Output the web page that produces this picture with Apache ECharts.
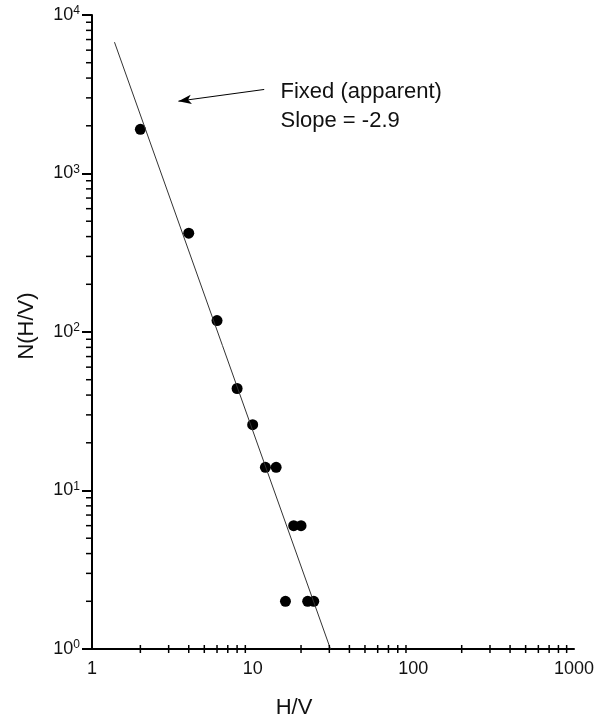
<!DOCTYPE html>
<html>
<head>
<meta charset="utf-8">
<script src="https://cdn.jsdelivr.net/npm/echarts@6/dist/echarts.min.js"></script>
<style>
  html, body { margin: 0; padding: 0; background: #fff; }
  #chart { width: 608px; height: 722px; }
</style>
</head>
<body>
<div id="chart"></div>
<script>
// 测量点 H/V 与 N(H/V)
const hvValues = [2, 4, 6, 8, 10, 12, 14, 16, 18, 20, 22, 24];
const countValues = [1900, 420, 118, 44, 26, 14, 14, 2, 6, 6, 2, 2];

// 拟合直线两端 (slope -2.9)
const fitX = [1.38, 30.5];
const fitY = [6740, 1];

// 注释箭头和文字 (数据坐标)
const arrowFrom = [11.8, 3390];
const arrowTo = [3.45, 2860];
const notePos = [14.9, 2630];
const noteText = 'Fixed (apparent)\nSlope = -2.9';

// 次刻度
const xMinorTicks = [2, 3, 4, 5, 6, 7, 8, 9, 20, 30, 40, 50, 60, 70, 80, 90,
  200, 300, 400, 500, 600, 700, 800, 900];
const yMinorTicks = [2, 3, 4, 5, 6, 7, 8, 9, 20, 30, 40, 50, 60, 70, 80, 90,
  200, 300, 400, 500, 600, 700, 800, 900, 2000, 3000, 4000, 5000, 6000, 7000, 8000, 9000];

const textColor = '#111';
const fontFamily = '"Liberation Sans", Arial, sans-serif';

const chart = echarts.init(document.getElementById('chart'));

const tickSeries = (ticks, horizontal) => ({
  type: 'custom',
  silent: true,
  clip: false,
  z: 5,
  data: ticks.map((v) => (horizontal ? [v, 1] : [1, v])),
  renderItem: (params, api) => {
    const p = api.coord([api.value(0), api.value(1)]);
    const shape = horizontal
      ? { x1: p[0], y1: p[1] - 4, x2: p[0], y2: p[1] + 4 }
      : { x1: p[0] - 6, y1: p[1], x2: p[0], y2: p[1] };
    return { type: 'line', shape: shape, style: { stroke: '#000', lineWidth: 1.5 } };
  }
});

chart.setOption({
  animation: false,
  grid: {
    left: 92,
    right: 34,
    top: 15,
    bottom: 73,
    containLabel: false,
    outerBoundsMode: 'none'
  },
  xAxis: {
    type: 'log',
    logBase: 10,
    min: 1,
    max: 1000,
    axisLine: { lineStyle: { color: '#000', width: 2 } },
    axisTick: { show: false },
    splitLine: { show: false },
    axisLabel: {
      color: textColor,
      fontSize: 18,
      fontFamily: fontFamily,
      margin: 11,
      formatter: (v) => String(Math.round(v))
    }
  },
  yAxis: {
    type: 'log',
    logBase: 10,
    min: 1,
    max: 10000,
    axisLine: { show: true, lineStyle: { color: '#000', width: 2 } },
    axisTick: { show: true, length: 10, lineStyle: { color: '#000', width: 2 } },
    splitLine: { show: false },
    axisLabel: {
      margin: 12,
      formatter: (v) => '{b|10}{s|' + Math.round(Math.log10(v)) + '}',
      rich: {
        b: { fontSize: 18, fontFamily: fontFamily, color: textColor },
        s: { fontSize: 12, fontFamily: fontFamily, color: textColor, verticalAlign: 'top', padding: [0, 0, 8, 0] }
      }
    }
  },
  graphic: [
    {
      type: 'text',
      x: 294,
      y: 708,
      style: {
        text: 'H/V',
        fill: textColor,
        font: '22px ' + fontFamily,
        textAlign: 'center',
        textVerticalAlign: 'middle'
      }
    },
    {
      type: 'text',
      x: 27,
      y: 326,
      rotation: Math.PI / 2,
      style: {
        text: 'N(H/V)',
        fill: textColor,
        font: '22px ' + fontFamily,
        textAlign: 'center',
        textVerticalAlign: 'middle'
      }
    }
  ],
  series: [
    {
      type: 'line',
      data: fitX.map((x, i) => [x, fitY[i]]),
      showSymbol: false,
      silent: true,
      lineStyle: { color: '#333', width: 1 },
      markLine: {
        silent: true,
        symbol: ['none', 'arrow'],
        symbolSize: [7, 13],
        lineStyle: { color: '#000', width: 1, type: 'solid' },
        label: { show: false },
        data: [[{ coord: arrowFrom }, { coord: arrowTo }]]
      },
      markPoint: {
        silent: true,
        symbol: 'circle',
        symbolSize: 0,
        label: {
          show: true,
          position: 'right',
          distance: 0,
          formatter: noteText,
          color: textColor,
          fontSize: 22,
          lineHeight: 29,
          fontFamily: fontFamily,
          align: 'left'
        },
        data: [{ coord: notePos }]
      }
    },
    {
      type: 'scatter',
      data: hvValues.map((x, i) => [x, countValues[i]]),
      symbol: 'circle',
      symbolSize: 11,
      itemStyle: { color: '#000', opacity: 1 }
    },
    tickSeries(xMinorTicks, true),
    tickSeries(yMinorTicks, false)
  ]
});
</script>
</body>
</html>
